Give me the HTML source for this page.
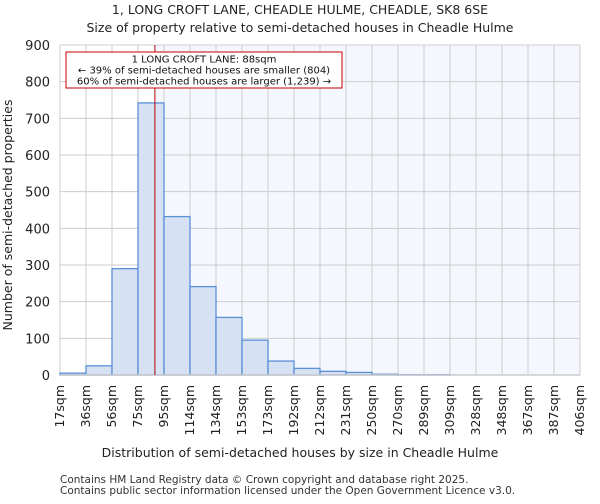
<!DOCTYPE html>
<html><head><meta charset="utf-8"><style>
body{margin:0;background:#fff;font-family:"DejaVu Sans","Liberation Sans",sans-serif;}
</style></head><body>
<svg id="c" width="600" height="500" xmlns="http://www.w3.org/2000/svg" font-family="DejaVu Sans, Liberation Sans, sans-serif">
<text x="300" y="14" text-anchor="middle" font-size="12.5" fill="#222">1, LONG CROFT LANE, CHEADLE HULME, CHEADLE, SK8 6SE</text>
<text x="300" y="32" text-anchor="middle" font-size="12.5" fill="#222">Size of property relative to semi-detached houses in Cheadle Hulme</text>
<g id="plot"></g>
<text x="300" y="457" text-anchor="middle" font-size="12.5" fill="#222">Distribution of semi-detached houses by size in Cheadle Hulme</text>
<text transform="translate(12,215) rotate(-90)" text-anchor="middle" font-size="12.5" fill="#222">Number of semi-detached properties</text>
<text x="60" y="483" font-size="10.5" fill="#333">Contains HM Land Registry data © Crown copyright and database right 2025.</text>
<text x="60" y="494" font-size="10.5" fill="#333">Contains public sector information licensed under the Open Government Licence v3.0.</text>
</svg>
<script>
const binLabels=["17sqm","36sqm","56sqm","75sqm","95sqm","114sqm","134sqm","153sqm","173sqm","192sqm","212sqm","231sqm","250sqm","270sqm","289sqm","309sqm","328sqm","348sqm","367sqm","387sqm","406sqm"];
const counts=[5,25,290,742,432,241,157,95,38,18,10,7,2,1,1,0,0,0,0,0];
const yTicks=[0,100,200,300,400,500,600,700,800,900];
const propertyBin=3.65;
const NS="http://www.w3.org/2000/svg";
const L=60,R=580,T=45,B=375,yMax=900;
const bw=(R-L)/counts.length;
const xs=i=>L+i*bw;
const ys=v=>B-(v/yMax)*(B-T);
const g=document.getElementById('plot');
function mk(t,a){const e=document.createElementNS(NS,t);for(const k in a)e.setAttribute(k,a[k]);g.appendChild(e);return e;}
const redX=xs(propertyBin);
let bg=mk('rect',{x:L,y:T,width:R-L,height:B-T,fill:'#f4f7fd'});


let bgl=mk('rect',{x:L,y:T,width:redX-L,height:B-T,fill:'#ffffff'});


yTicks.forEach(v=>{
 let l=mk('line',{x1:L,x2:R,y1:ys(v),y2:ys(v),stroke:'#cccccc','stroke-width':1});
 
 
 let t=mk('text',{x:L-10,y:ys(v)+5,'text-anchor':'end','font-size':13,fill:'#222'});
 t.textContent=v;
 
 
});
binLabels.forEach((s,i)=>{
 let l=mk('line',{x1:xs(i),x2:xs(i),y1:T,y2:B,stroke:'#cccccc','stroke-width':1});
 
 
 let x=xs(i)+4;
 let t=mk('text',{x:x,y:B+10,'text-anchor':'end','font-size':12.5,fill:'#222',transform:`rotate(-90 ${x} ${B+10})`});
 t.textContent=s;
 
 
});
counts.forEach((c,i)=>{
 if(c<=0)return;
 let r=mk('rect',{x:xs(i),y:ys(c),width:bw,height:B-ys(c),fill:'#d6e2f4',stroke:'#5b8fd6','stroke-width':1.3});
 
 
});
let ax=mk('line',{x1:L,x2:R,y1:B,y2:B,stroke:'#ccc','stroke-width':1.5});


let rl=mk('line',{x1:redX,x2:redX,y1:T,y2:B,stroke:'#b00000','stroke-width':1});


let box=mk('rect',{x:66,y:52,width:276,height:36,fill:'#fff',stroke:'#cc0000','stroke-width':1});


["1 LONG CROFT LANE: 88sqm","← 39% of semi-detached houses are smaller (804)","60% of semi-detached houses are larger (1,239) →"].forEach((s,i)=>{
 let t=mk('text',{x:204,y:62.5+i*11,'text-anchor':'middle','font-size':10,fill:'#111'});
 t.textContent=s;
 
 
});
</script>
</body></html>
